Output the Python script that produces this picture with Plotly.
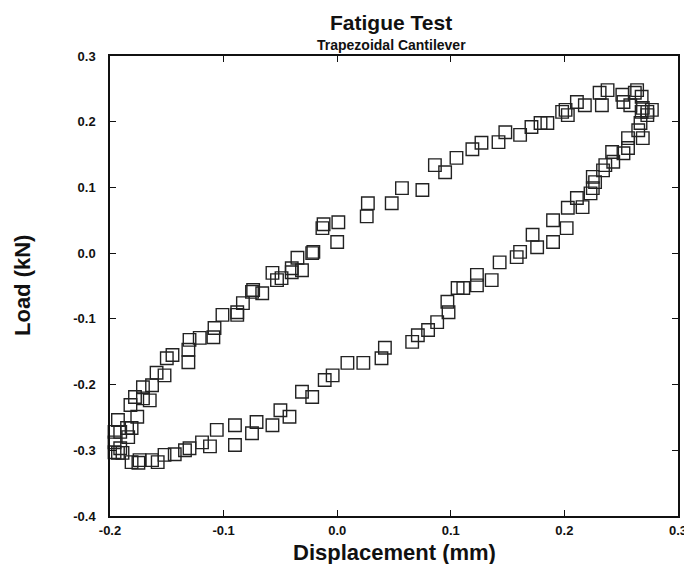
import plotly.graph_objects as go

# Displacement (mm) and Load (kN)
displacement = [
    -0.196, -0.193, -0.191, -0.184, -0.185, -0.181, -0.182, -0.176, -0.178, -0.171,
    -0.165, -0.171, -0.163, -0.159, -0.152, -0.150, -0.145, -0.131, -0.131, -0.130,
    -0.121, -0.109, -0.108, -0.101, -0.088, -0.088, -0.083, -0.075, -0.074, -0.066,
    -0.057, -0.053, -0.049, -0.040, -0.040, -0.031, -0.035, -0.022, -0.021, -0.013,
    -0.012, 0.001, 0.000, 0.026, 0.027, 0.048, 0.057, 0.075, 0.086, 0.095,
    0.105, 0.119, 0.127, 0.142, 0.148, 0.161, 0.171, 0.179, 0.185, 0.198,
    0.201, 0.203, 0.211, 0.218, 0.231, 0.238, 0.233, 0.251, 0.252, 0.258,
    0.262, 0.264, 0.268, 0.269, 0.268, 0.273, 0.277, 0.273, 0.267, 0.265,
    0.269, 0.256, 0.256, 0.252, 0.242, 0.243, 0.236, 0.234, 0.225, 0.227,
    0.225, 0.223, 0.211, 0.216, 0.203, 0.190, 0.202, 0.172, 0.190, 0.176,
    0.161, 0.158, 0.143, 0.136, 0.123, 0.123, 0.111, 0.106, 0.097, 0.098,
    0.088, 0.080, 0.071, 0.066, 0.042, 0.039, 0.023, 0.009, -0.004, -0.011,
    -0.022, -0.031, -0.042, -0.050, -0.057, -0.071, -0.075, -0.090, -0.090, -0.106,
    -0.112, -0.119, -0.130, -0.134, -0.143, -0.152, -0.158, -0.163, -0.174, -0.175,
    -0.181, -0.189, -0.193, -0.196, -0.191, -0.196,
]
load = [
    -0.272, -0.254, -0.272, -0.280, -0.266, -0.266, -0.231, -0.249, -0.219, -0.221,
    -0.224, -0.204, -0.201, -0.182, -0.186, -0.160, -0.155, -0.166, -0.147, -0.132,
    -0.129, -0.128, -0.114, -0.094, -0.094, -0.090, -0.076, -0.059, -0.056, -0.061,
    -0.030, -0.041, -0.038, -0.029, -0.023, -0.026, -0.007, 0.000, 0.002, 0.038,
    0.044, 0.047, 0.017, 0.056, 0.076, 0.076, 0.099, 0.096, 0.134, 0.123,
    0.145, 0.158, 0.168, 0.169, 0.184, 0.180, 0.192, 0.198, 0.198, 0.215,
    0.218, 0.210, 0.230, 0.225, 0.244, 0.248, 0.225, 0.241, 0.230, 0.225,
    0.244, 0.248, 0.238, 0.221, 0.215, 0.215, 0.218, 0.210, 0.198, 0.187,
    0.175, 0.175, 0.160, 0.152, 0.154, 0.139, 0.134, 0.126, 0.116, 0.108,
    0.099, 0.091, 0.084, 0.070, 0.069, 0.050, 0.038, 0.028, 0.017, 0.009,
    0.002, -0.006, -0.014, -0.041, -0.033, -0.049, -0.053, -0.053, -0.074, -0.090,
    -0.105, -0.117, -0.125, -0.135, -0.144, -0.160, -0.167, -0.167, -0.186, -0.193,
    -0.219, -0.211, -0.249, -0.239, -0.262, -0.257, -0.274, -0.262, -0.292, -0.269,
    -0.294, -0.288, -0.297, -0.300, -0.306, -0.307, -0.318, -0.315, -0.315, -0.319,
    -0.318, -0.304, -0.304, -0.303, -0.297, -0.288,
]

x_tickvals = [-0.2, -0.1, 0.0, 0.1, 0.2, 0.3]
x_ticktext = ["-0.2", "-0.1", "0.0", "0.1", "0.2", "0.3"]
y_tickvals = [-0.4, -0.3, -0.2, -0.1, 0.0, 0.1, 0.2, 0.3]
y_ticktext = ["-0.4", "-0.3", "-0.2", "-0.1", "0.0", "0.1", "0.2", "0.3"]

FONT = "Liberation Sans"
INK = "#111111"

fig = go.Figure()
fig.add_trace(go.Scatter(
    x=displacement, y=load, mode="markers",
    marker=dict(symbol="square-open", size=12.5, color="#222222",
                line=dict(width=1.4, color="#222222")),
    showlegend=False, cliponaxis=False,
))

axis_common = dict(
    showgrid=False, zeroline=False, showline=True, linecolor=INK,
    linewidth=1.5, mirror="ticks", ticks="inside", ticklen=6, tickwidth=1.2,
    tickcolor=INK, automargin=False,
    tickfont=dict(family=FONT, size=13, color=INK, weight="bold"),
)

fig.update_layout(
    width=684, height=556,
    margin=dict(l=102, r=14, t=48, b=48),
    paper_bgcolor="white", plot_bgcolor="white",
    xaxis=dict(range=[-0.2, 0.3], tickvals=x_tickvals, ticktext=x_ticktext,
               ticklabelstandoff=2, **axis_common),
    yaxis=dict(range=[-0.4, 0.3], tickvals=y_tickvals, ticktext=y_ticktext,
               ticklabelstandoff=10, **axis_common),
    annotations=[
        dict(text="<b>Fatigue Test</b>", xref="paper", yref="paper", x=0.5, y=1.0,
             xshift=-3, yshift=34, showarrow=False, xanchor="center", yanchor="middle",
             font=dict(family=FONT, size=21, color=INK)),
        dict(text="<b>Trapezoidal Cantilever</b>", xref="paper", yref="paper", x=0.5, y=1.0,
             xshift=-3, yshift=11, showarrow=False, xanchor="center", yanchor="middle",
             font=dict(family=FONT, size=14, color=INK)),
        dict(text="<b>Displacement (mm)</b>", xref="paper", yref="paper", x=0.5, y=0.0,
             yshift=-36, showarrow=False, xanchor="center", yanchor="middle",
             font=dict(family=FONT, size=22, color=INK)),
        dict(text="<b>Load (kN)</b>", xref="paper", yref="paper", x=0.0, y=0.5,
             xshift=-88, showarrow=False, xanchor="center", yanchor="middle",
             textangle=-90, font=dict(family=FONT, size=22, color=INK)),
    ],
)

fig.write_html("out.html")
